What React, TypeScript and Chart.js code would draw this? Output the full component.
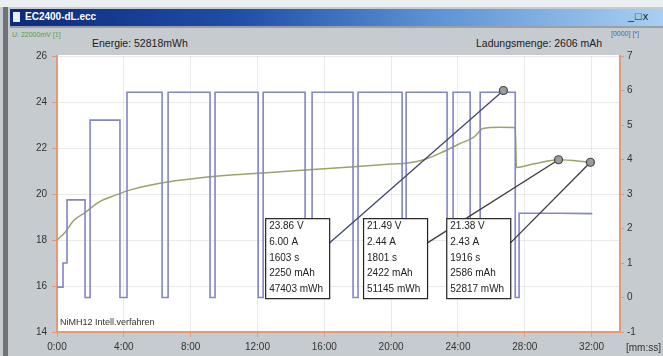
import React, { useEffect, useRef } from "react";
import { Chart, registerables } from "chart.js";

Chart.register(...registerables);

// ---- axis ticks ----
const xTickMinutes = [0, 4, 8, 12, 16, 20, 24, 28, 32];
const voltTicks = [14, 16, 18, 20, 22, 24, 26];
const ampTicks = [-1, 0, 1, 2, 3, 4, 5, 6, 7];

// ---- current (A), right axis ----
const currentTime = [
  0, 0.36, 0.36, 0.6, 0.6, 1.68, 1.68, 1.98, 1.98, 3.77, 3.77, 4.19, 4.19, 6.29, 6.29, 6.65,
  6.65, 9.16, 9.16, 9.46, 9.46, 12.04, 12.04, 12.34, 12.34, 14.85, 14.85, 15.27, 15.27, 17.72,
  17.72, 18.02, 18.02, 20.66, 20.66, 20.9, 20.9, 23.35, 23.35, 23.71, 23.71, 24.73, 24.73,
  25.33, 25.33, 27.43, 27.43, 27.66, 27.66, 30.02, 32.04,
];
const currentAmp = [
  0.3, 0.3, 1.0, 1.0, 2.83, 2.83, 0, 0, 5.14, 5.14, 0, 0, 5.95, 5.95, 0, 0,
  5.95, 5.95, 0, 0, 5.95, 5.95, 0, 0, 5.95, 5.95, 0, 0, 5.95, 5.95,
  0, 0, 5.95, 5.95, 0, 0, 5.95, 5.95, 0, 0, 5.95, 5.95, 0,
  0, 5.95, 5.95, 0, 0, 2.44, 2.44, 2.43,
];

// ---- voltage (V), left axis ----
const voltTime = [
  0, 0.5, 1.0, 1.7, 2.5, 3.5, 4.5, 6, 8, 10, 12, 14, 16, 18, 20, 21, 22, 23, 24, 25, 25.5,
  26.5, 27.43, 27.5, 28.5, 30.02, 31.93,
];
const voltValue = [
  18.0, 18.35, 18.85, 19.2, 19.65, 19.95, 20.2, 20.45, 20.65, 20.8, 20.9, 21.0, 21.1, 21.2,
  21.3, 21.35, 21.5, 21.8, 22.15, 22.5, 22.85, 22.9, 22.88, 21.15, 21.3, 21.49, 21.38,
];

// ---- measurement boxes ----
const boxLeftMinute = [12.46, 18.32, 23.3];
const boxTopVolt = [18.95, 18.95, 18.95];
const boxLines = [
  ["23.86 V", "6.00 A", "1603 s", "2250 mAh", "47403 mWh"],
  ["21.49 V", "2.44 A", "1801 s", "2422 mAh", "51145 mWh"],
  ["21.38 V", "2.43 A", "1916 s", "2586 mAh", "52817 mWh"],
];
const markerMinute = [26.72, 30.02, 31.93];
const markerValue = [6.0, 21.49, 21.38];
const markerAxis = ["y1", "y", "y"];

const FONT = '"Liberation Sans", Arial, sans-serif';

const plotBg = {
  id: "plotBg",
  beforeDraw(chart: any) {
    const { ctx, chartArea } = chart;
    ctx.save();
    ctx.fillStyle = "#ffffff";
    ctx.fillRect(chartArea.left, chartArea.top - 1, chartArea.right - chartArea.left, chartArea.bottom - chartArea.top + 1);
    ctx.restore();
  },
};

const boxesPlugin = {
  id: "measureBoxes",
  afterDatasetsDraw(chart: any) {
    const { ctx, scales } = chart;
    const xs = scales.x;
    const ys = scales.y;
    ctx.save();
    // footer text
    ctx.font = `9px ${FONT}`;
    ctx.fillStyle = "#333";
    ctx.textBaseline = "middle";
    ctx.textAlign = "left";
    ctx.fillText("NiMH12 Intell.verfahren", chart.chartArea.left + 3, chart.chartArea.bottom - 9);

    boxLines.forEach((lines, i) => {
      const left = xs.getPixelForValue(boxLeftMinute[i]);
      const top = ys.getPixelForValue(boxTopVolt[i]);
      const w = 64;
      const h = 80;
      const mx = xs.getPixelForValue(markerMinute[i]);
      const my = scales[markerAxis[i]].getPixelForValue(markerValue[i]);
      // connector
      ctx.strokeStyle = i === 0 ? "#3d4670" : "#3b3b3b";
      ctx.lineWidth = 1.3;
      ctx.beginPath();
      ctx.moveTo(left + w, top + 25);
      ctx.lineTo(mx, my);
      ctx.stroke();
      // box
      ctx.fillStyle = "#ffffff";
      ctx.fillRect(left, top, w, h);
      ctx.strokeStyle = "#222";
      ctx.lineWidth = 1.2;
      ctx.strokeRect(left + 0.5, top + 0.5, w, h);
      ctx.fillStyle = "#222";
      ctx.font = `10px ${FONT}`;
      ctx.textBaseline = "middle";
      lines.forEach((t, k) => {
        ctx.fillText(t, left + 4, top + 8 + k * 15.8);
      });
      // marker
      ctx.beginPath();
      ctx.arc(mx, my, 4, 0, Math.PI * 2);
      ctx.fillStyle = "#9c9c9c";
      ctx.fill();
      ctx.strokeStyle = "#444";
      ctx.lineWidth = 1.2;
      ctx.stroke();
    });
    ctx.restore();
  },
};

export default function App() {
  const ref = useRef<HTMLCanvasElement | null>(null);

  useEffect(() => {
    if (!ref.current) return;
    const axisColor = "#e39a7c";
    const gridColor = "rgba(170,170,170,0.25)";
    const tickFont = { family: FONT, size: 10 };
    const chart = new Chart(ref.current, {
      type: "line",
      data: {
        datasets: [
          {
            label: "Strom",
            data: currentTime.map((t, i) => ({ x: t, y: currentAmp[i] })),
            yAxisID: "y1",
            borderColor: "#8185c9",
            borderWidth: 1.6,
            pointRadius: 0,
            tension: 0,
          },
          {
            label: "Spannung",
            data: voltTime.map((t, i) => ({ x: t, y: voltValue[i] })),
            yAxisID: "y",
            borderColor: "#99a46a",
            borderWidth: 1.5,
            pointRadius: 0,
            cubicInterpolationMode: "monotone",
          },
        ],
      },
      options: {
        animation: false,
        responsive: false,
        maintainAspectRatio: false,
        layout: { padding: { top: 56, left: 0, right: 0, bottom: 0 } },
        plugins: { legend: { display: false }, tooltip: { enabled: false } },
        scales: {
          x: {
            type: "linear",
            min: 0,
            max: 33.7,
            afterBuildTicks: (s: any) => {
              s.ticks = xTickMinutes.map((v) => ({ value: v }));
            },
            afterFit: (s: any) => {
              s.height = 24;
            },
            ticks: {
              callback: (v: any) => `${v}:00`,
              font: tickFont,
              color: "#333",
              maxRotation: 0,
              autoSkip: false,
              padding: 4,
            },
            grid: { color: gridColor, tickColor: axisColor, tickLength: 5 },
            border: { color: axisColor, width: 2 },
          },
          y: {
            position: "left",
            min: 14,
            max: 26,
            afterBuildTicks: (s: any) => {
              s.ticks = voltTicks.map((v) => ({ value: v }));
            },
            afterFit: (s: any) => {
              s.width = 57;
            },
            ticks: { font: tickFont, color: "#333", padding: 5 },
            grid: { color: gridColor, tickColor: axisColor, tickLength: 5 },
            border: { color: axisColor, width: 2 },
          },
          y1: {
            position: "right",
            min: -1,
            max: 7,
            afterBuildTicks: (s: any) => {
              s.ticks = ampTicks.map((v) => ({ value: v }));
            },
            afterFit: (s: any) => {
              s.width = 43;
            },
            ticks: { font: tickFont, color: "#333", padding: 3 },
            grid: { drawOnChartArea: false, tickColor: axisColor, tickLength: 4 },
            border: { color: axisColor, width: 2 },
          },
        },
      },
      plugins: [plotBg, boxesPlugin],
    } as any);
    return () => chart.destroy();
  }, []);

  return (
    <div
      style={{
        position: "fixed",
        left: 0,
        top: 0,
        width: 663,
        height: 356,
        background: "#c5cbcf",
        overflow: "hidden",
        fontFamily: FONT,
      }}
    >
      <div style={{ position: "absolute", left: 0, top: 0, width: 663, height: 7, background: "#eceff1" }} />
      <div style={{ position: "absolute", left: 3, top: 7, width: 5, height: 349, background: "#6f7376" }} />
      <div
        style={{
          position: "absolute",
          left: 10,
          top: 9,
          width: 653,
          height: 17,
          background: "linear-gradient(90deg, #0c2a7c 0%, #1f4fa6 35%, #5c93d4 65%, #a9cff2 100%)",
        }}
      />
      <div style={{ position: "absolute", left: 13, top: 12, width: 7, height: 10, background: "#e8eef6" }} />
      <div
        style={{
          position: "absolute",
          left: 25,
          top: 11,
          color: "#ffffff",
          fontSize: 10,
          fontWeight: "bold",
          whiteSpace: "nowrap",
        }}
      >
        EC2400-dL.ecc
      </div>
      <div
        style={{
          position: "absolute",
          left: 628,
          top: 10,
          color: "#222",
          fontSize: 11,
          whiteSpace: "nowrap",
          letterSpacing: 1,
        }}
      >
        _□x
      </div>
      <div style={{ position: "absolute", left: 10, top: 26, width: 653, height: 2, background: "#9aa0a6" }} />
      <div style={{ position: "absolute", left: 12, top: 31, color: "#5d9a3c", fontSize: 7, whiteSpace: "nowrap" }}>
        U: 22000mV [1]
      </div>
      <div style={{ position: "absolute", left: 92, top: 37, color: "#222", fontSize: 10.5, whiteSpace: "nowrap" }}>
        Energie: 52818mWh
      </div>
      <div style={{ position: "absolute", left: 476, top: 37, color: "#222", fontSize: 10.5, whiteSpace: "nowrap" }}>
        Ladungsmenge: 2606 mAh
      </div>
      <div style={{ position: "absolute", left: 611, top: 30, color: "#4a62c8", fontSize: 7, whiteSpace: "nowrap" }}>
        [0000] [*]
      </div>
      <canvas
        ref={ref}
        width={663}
        height={356}
        style={{ position: "absolute", left: 0, top: 0, width: 663, height: 356, display: "block" }}
      />
      <div style={{ position: "absolute", left: 626, top: 342, color: "#333", fontSize: 10, whiteSpace: "nowrap" }}>
        [mm:ss]
      </div>
    </div>
  );
}
